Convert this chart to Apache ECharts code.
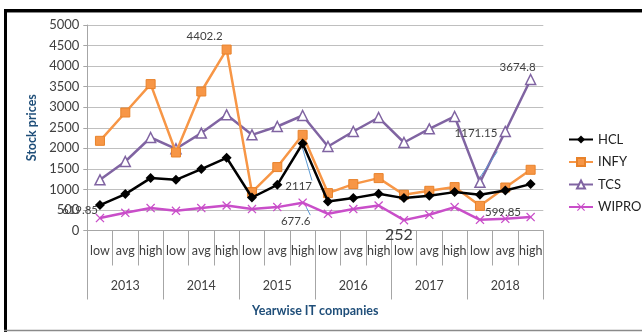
<!DOCTYPE html>
<html><head><meta charset="utf-8">
<script src="https://cdn.jsdelivr.net/npm/echarts@6/dist/echarts.min.js"></script>
<style>html,body{margin:0;padding:0;background:#fff}#c{width:642px;height:332px}</style>
</head><body><div id="c"></div>
<script>
var subCategories = ['low','avg','high','low','avg','high','low','avg','high','low','avg','high','low','avg','high','low','avg','high'];
var years = ['2013','2014','2015','2016','2017','2018'];
var HCL   = [619.85, 886, 1275, 1234, 1494, 1769, 803, 1112, 2117, 706, 788, 893, 788, 844, 934, 869, 973, 1129];
var INFY  = [2182, 2871, 3562, 1898, 3382, 4402.2, 934, 1543, 2328, 910, 1129, 1275, 869, 966, 1056, 599.85, 1046, 1477];
var TCS   = [1233, 1679, 2263, 1988, 2370, 2815, 2328, 2530, 2798, 2044, 2409, 2749, 2141, 2474, 2774, 1171.15, 2409, 3674.8];
var WIPRO = [302, 431, 545, 479, 545, 608, 521, 569, 677.6, 406, 521, 608, 252, 382, 569, 260, 285, 326];
var yTicks = [0, 500, 1000, 1500, 2000, 2500, 3000, 3500, 4000, 4500, 5000];

var FONT = 'Lato';
var lblBase = {show:true, color:'#404040', fontFamily:FONT, fontSize:11.5};
var leader = {show:true, lineStyle:{color:'#5b9bd5', width:1}, length2:0};
// label decorations per series (index -> style)
var labelCfg = {
  HCL:   {0:{position:'left', distance:-3, offset:[0,5]}, 8:{position:'bottom', distance:32, offset:[-4,0], leader:true}},
  INFY:  {5:{position:'top', distance:2, offset:[-22,0]}, 15:{position:'right', distance:0, offset:[0,6]}},
  TCS:   {15:{position:'top', distance:37, offset:[-4,0], leader:true}, 17:{position:'top', distance:0, offset:[-13,0]}},
  WIPRO: {8:{position:'bottom', distance:8, offset:[-7,0], leader:true}, 12:{position:'bottom', distance:2, offset:[-5,0], fontSize:16}}
};
function build(name, arr){
  var cfg = labelCfg[name] || {};
  return arr.map(function(v,i){
    var c = cfg[i];
    if(!c) return v;
    var lab = Object.assign({}, lblBase, {position:c.position, distance:c.distance, offset:c.offset});
    if(c.fontSize) lab.fontSize = c.fontSize;
    var item = {value:v, label:lab};
    if(c.leader) item.labelLine = leader;
    return item;
  });
}
var crossPath = 'path://M1,0 L5,4 L9,0 L10,1 L6,5 L10,9 L9,10 L5,6 L1,10 L0,9 L4,5 L0,1 Z';

var chart = echarts.init(document.getElementById('c'), null, {renderer:'canvas'});
chart.setOption({
  backgroundColor:'#ffffff',
  animation:false,
  textStyle:{fontFamily:FONT},
  grid:{left:87.3, right:98.7, top:25, bottom:101.5, containLabel:false},
  legend:{
    orient:'vertical', left:563, top:128, itemGap:9.5, itemWidth:24, itemHeight:10,
    textStyle:{fontFamily:FONT, fontSize:13, color:'#222'},
    data:['HCL','INFY','TCS','WIPRO']
  },
  xAxis:[
    {type:'category', data:subCategories, boundaryGap:true, position:'bottom',
     axisLine:{show:true, lineStyle:{color:'#a6a6a6', width:1}},
     axisTick:{show:true, interval:0, length:35, lineStyle:{color:'#a6a6a6'}},
     axisLabel:{interval:0, margin:14, color:'#404040', fontFamily:FONT, fontSize:12.5}},
    {type:'category', data:years, boundaryGap:true, position:'bottom', offset:0,
     axisLine:{show:false},
     axisTick:{show:true, interval:0, length:69, lineStyle:{color:'#a6a6a6'}},
     axisLabel:{interval:0, margin:49, color:'#404040', fontFamily:FONT, fontSize:12.5},
     name:'Yearwise IT companies', nameLocation:'middle', nameGap:74,
     nameTextStyle:{color:'#1f4e79', fontWeight:'bold', fontFamily:FONT, fontSize:12.5}}
  ],
  yAxis:{type:'value', min:yTicks[0], max:yTicks[yTicks.length-1], interval:500,
    axisLine:{show:true, lineStyle:{color:'#a6a6a6'}},
    axisTick:{show:true, length:4, lineStyle:{color:'#a6a6a6'}},
    splitLine:{lineStyle:{color:'#bfbfbf', width:1}},
    axisLabel:{color:'#404040', fontFamily:FONT, fontSize:13, margin:8, formatter:function(v){return String(v);}},
    name:'Stock prices', nameLocation:'middle', nameGap:47, nameRotate:90,
    nameTextStyle:{color:'#1f4e79', fontWeight:'bold', fontFamily:FONT, fontSize:12.5}
  },
  series:[
    {name:'HCL', type:'line', data:build('HCL',HCL), symbol:'diamond', symbolSize:10,
     lineStyle:{color:'#000', width:2.5}, itemStyle:{color:'#000'}, z:4},
    {name:'INFY', type:'line', data:build('INFY',INFY), symbol:'rect', symbolSize:9,
     lineStyle:{color:'#f79646', width:2.5}, itemStyle:{color:'#f79646', borderColor:'#e8822a', borderWidth:1}, z:3},
    {name:'TCS', type:'line', data:build('TCS',TCS), symbol:'triangle', symbolSize:10, showAllSymbol:true,
     lineStyle:{color:'#8064a2', width:2.5}, itemStyle:{color:'#ffffff', borderColor:'#8064a2', borderWidth:1.5}, z:2},
    {name:'WIPRO', type:'line', data:build('WIPRO',WIPRO), symbol:crossPath, symbolSize:9,
     lineStyle:{color:'#c94ec9', width:2.5}, itemStyle:{color:'#c94ec9'}, z:1}
  ],
  graphic:[
    {type:'line', shape:{x1:4, y1:10.5, x2:642, y2:10.5}, style:{stroke:'#000', lineWidth:3}},
    {type:'line', shape:{x1:4, y1:12.5, x2:642, y2:12.5}, style:{stroke:'#888', lineWidth:1}},
    {type:'line', shape:{x1:5.5, y1:9, x2:5.5, y2:332}, style:{stroke:'#000', lineWidth:3}},
    {type:'line', shape:{x1:4, y1:330.5, x2:642, y2:330.5}, style:{stroke:'#8a8a8a', lineWidth:1.5}}
  ]
});
</script></body></html>
